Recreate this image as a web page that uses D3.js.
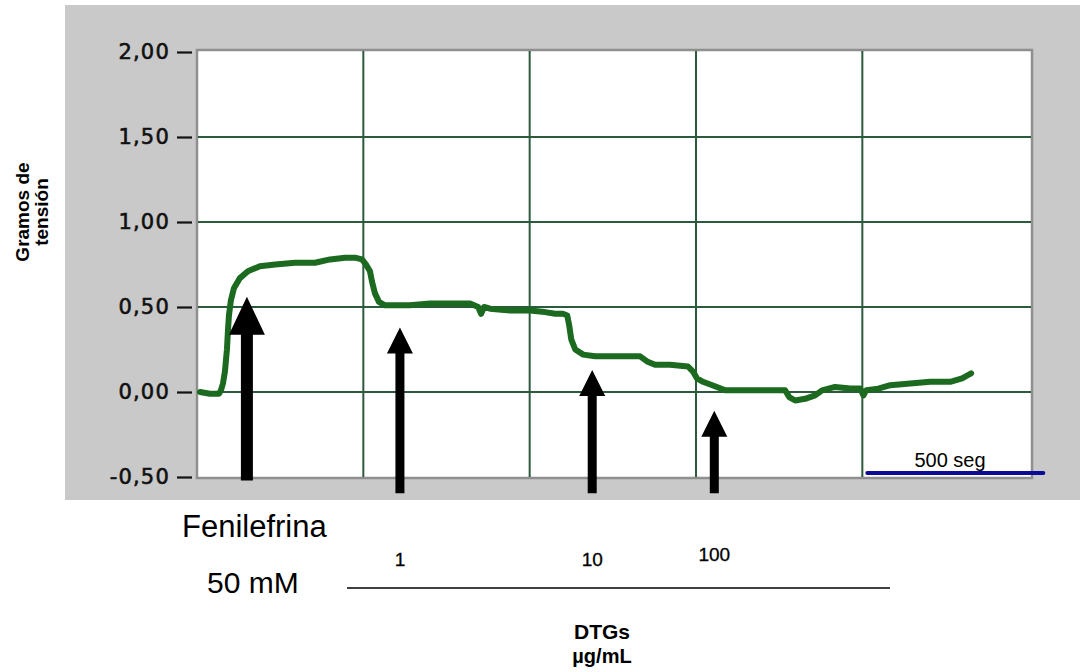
<!DOCTYPE html>
<html>
<head>
<meta charset="utf-8">
<script src="https://cdn.jsdelivr.net/npm/d3@7"></script>
<style>
  html, body { margin: 0; padding: 0; background: #ffffff; }
  svg { display: block; }
</style>
</head>
<body>
<svg id="chart" width="1080" height="672"></svg>
<script>
// ---- data ----
const timeSec = [9, 39, 66, 72, 78, 84, 90, 93, 96, 102, 111, 129, 153, 189, 235, 295, 355, 400, 445, 475,
  496, 508, 520, 526, 535, 547, 565, 595, 640, 700, 776, 821, 845, 854, 863, 881, 941, 1001, 1046, 1077,
  1100, 1113, 1119, 1125, 1137, 1161, 1197, 1272, 1332, 1353, 1377, 1422, 1476, 1491, 1503, 1521, 1549, 1588, 1648, 1723,
  1768, 1780, 1798, 1828, 1858, 1879, 1918, 1964, 1994, 2003, 2012, 2048, 2084, 2144, 2204, 2264, 2300, 2318, 2327];
const tension = [0.00, -0.01, -0.01, 0.01, 0.05, 0.12, 0.25, 0.36, 0.45, 0.54, 0.61, 0.67, 0.71, 0.74, 0.75, 0.76, 0.76, 0.78, 0.79, 0.79,
  0.78, 0.75, 0.71, 0.65, 0.58, 0.53, 0.51, 0.51, 0.51, 0.52, 0.52, 0.52, 0.50, 0.46, 0.50, 0.49, 0.48, 0.48, 0.47, 0.46,
  0.46, 0.45, 0.39, 0.31, 0.25, 0.22, 0.21, 0.21, 0.21, 0.18, 0.16, 0.16, 0.15, 0.12, 0.08, 0.06, 0.04, 0.01, 0.01, 0.01,
  0.01, -0.03, -0.05, -0.04, -0.02, 0.01, 0.03, 0.02, 0.02, -0.02, 0.01, 0.02, 0.04, 0.05, 0.06, 0.06, 0.08, 0.10, 0.11];

const yTicks = [-0.5, 0, 0.5, 1.0, 1.5, 2.0];
const xGrid = [500, 1000, 1500, 2000];

// additions (arrows): time, tip value, tail value
const arrowTimes = [150, 610, 1188, 1555];
const arrowTips  = [0.56, 0.38, 0.13, -0.11];
const arrowTails = [-0.52, -0.595, -0.595, -0.595];
const doseLabels = ["", "1", "10", "100"];

const scaleBarTimes = [2015, 2544];
const scaleBarLabel = "500 seg";

// ---- layout ----
const svg = d3.select("#chart");
const plot = { left: 197, right: 1032, top: 50, bottom: 478 };

const x = d3.scaleLinear().domain([0, 2510]).range([plot.left, plot.right]);
const y = d3.scaleLinear().domain([-0.5, 2.0]).range([477, 52]);

// gray instrument panel
svg.append("rect").attr("x", 65).attr("y", 5).attr("width", 1015).attr("height", 495)
  .attr("fill", "#c9c9c9");

// white plot area
svg.append("rect").attr("x", plot.left).attr("y", plot.top)
  .attr("width", plot.right - plot.left).attr("height", plot.bottom - plot.top)
  .attr("fill", "#ffffff").attr("stroke", "#8f8f8f").attr("stroke-width", 2.5);

// gridlines
const gridColor = "#2c5a3c";
svg.append("g").selectAll("line").data(yTicks.filter(v => v > -0.5 && v < 2.0)).join("line")
  .attr("x1", plot.left + 1).attr("x2", plot.right - 1)
  .attr("y1", d => y(d)).attr("y2", d => y(d))
  .attr("stroke", gridColor).attr("stroke-width", 2);
svg.append("g").selectAll("line").data(xGrid).join("line")
  .attr("x1", d => x(d)).attr("x2", d => x(d))
  .attr("y1", plot.top + 1).attr("y2", plot.bottom - 1)
  .attr("stroke", gridColor).attr("stroke-width", 2);

// y axis with comma decimal
const fmt = v => d3.format(".2f")(v).replace(".", ",").replace("−", "-");
const yAxis = d3.axisLeft(y).tickValues(yTicks).tickFormat(fmt).tickSize(15).tickPadding(7);
const gy = svg.append("g").attr("transform", `translate(${plot.left - 5},0)`).call(yAxis);
gy.select(".domain").remove();
gy.selectAll(".tick line").attr("stroke", "#111").attr("stroke-width", 2.2);
gy.selectAll(".tick text")
  .attr("font-family", "DejaVu Sans, sans-serif").attr("font-size", 21)
  .attr("letter-spacing", 1.2).attr("fill", "#111")
  .attr("stroke", "#111").attr("stroke-width", 0.6);

// y axis title
const yt = svg.append("text").attr("transform", "translate(0,212) rotate(-90)")
  .attr("text-anchor", "middle").attr("font-family", "Liberation Sans, Arial, sans-serif")
  .attr("font-weight", "bold").attr("font-size", 19).attr("fill", "#000");
yt.append("tspan").attr("x", 0).attr("y", 29).text("Gramos de");
yt.append("tspan").attr("x", 0).attr("y", 48).text("tensión");

// trace
const pts = timeSec.map((t, i) => [t, tension[i]]);
svg.append("path").datum(pts)
  .attr("d", d3.line().x(d => x(d[0])).y(d => y(d[1])))
  .attr("fill", "none").attr("stroke", "#1b6a1f").attr("stroke-width", 6)
  .attr("stroke-linejoin", "round").attr("stroke-linecap", "round");

// arrows
const arrowShaft = [12, 9, 9, 9], arrowHeadW = [36, 26, 26, 26], arrowHeadL = [38, 26, 26, 26];
arrowTimes.forEach((t, i) => {
  const cx = x(t), tip = y(arrowTips[i]), tail = y(arrowTails[i]);
  const sw = arrowShaft[i] / 2, hw = arrowHeadW[i] / 2, hl = arrowHeadL[i];
  const p = [[cx, tip], [cx + hw, tip + hl], [cx + sw, tip + hl], [cx + sw, tail],
             [cx - sw, tail], [cx - sw, tip + hl], [cx - hw, tip + hl]];
  svg.append("path").attr("d", "M" + p.map(q => q.join(",")).join("L") + "Z").attr("fill", "#000");
  if (doseLabels[i]) {
    svg.append("text").attr("x", cx).attr("y", i === 3 ? 561 : 566)
      .attr("text-anchor", "middle").attr("font-family", "Liberation Sans, Arial, sans-serif")
      .attr("font-size", 19).attr("fill", "#000").attr("stroke", "#000").attr("stroke-width", 0.3)
      .text(doseLabels[i]);
  }
});

// scale bar
svg.append("line").attr("x1", x(scaleBarTimes[0])).attr("x2", x(scaleBarTimes[1]))
  .attr("y1", 473).attr("y2", 473).attr("stroke", "#0b0b96").attr("stroke-width", 4)
  .attr("stroke-linecap", "round");
svg.append("text").attr("x", 950).attr("y", 467).attr("text-anchor", "middle")
  .attr("font-family", "Liberation Sans, Arial, sans-serif").attr("font-size", 20)
  .attr("fill", "#000").text(scaleBarLabel);

// bottom annotations
const sans = "Liberation Sans, Arial, sans-serif";
svg.append("text").attr("x", 182).attr("y", 537).attr("font-family", sans).attr("font-size", 31)
  .attr("fill", "#000").text("Fenilefrina");
svg.append("text").attr("x", 207).attr("y", 593).attr("font-family", sans).attr("font-size", 30)
  .attr("fill", "#000").text("50 mM");
svg.append("line").attr("x1", 347).attr("x2", 890).attr("y1", 588).attr("y2", 588)
  .attr("stroke", "#000").attr("stroke-width", 1.5);
svg.append("text").attr("x", 602).attr("y", 639).attr("text-anchor", "middle")
  .attr("font-family", sans).attr("font-weight", "bold").attr("font-size", 21).attr("fill", "#000").text("DTGs");
svg.append("text").attr("x", 602).attr("y", 663).attr("text-anchor", "middle")
  .attr("font-family", sans).attr("font-weight", "bold").attr("font-size", 20).attr("fill", "#000").text("µg/mL");
</script>
</body>
</html>
